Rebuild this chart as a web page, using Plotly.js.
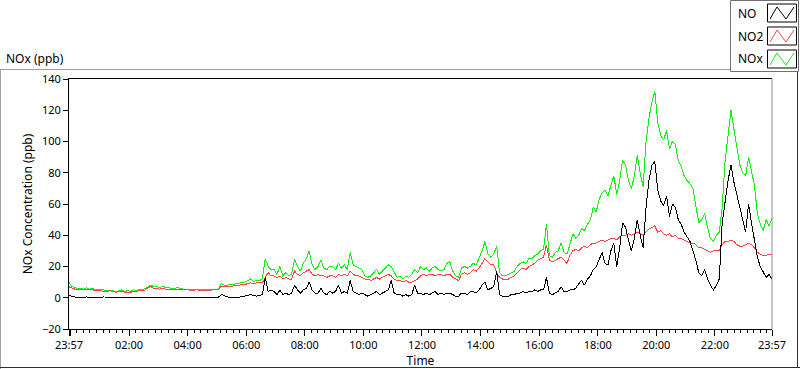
<!DOCTYPE html>
<html>
<head>
<meta charset="utf-8">
<script src="https://cdn.plot.ly/plotly-3.0.1.min.js"></script>
<style>html,body{margin:0;padding:0;background:#fff;}#chart{width:800px;height:369px;}
#chart path.js-line{shape-rendering:crispEdges;}
</style>
</head>
<body>
<div id="chart"></div>
<script>
// ---- data (6-minute readings starting 23:57) ----
const startTime = "2000-01-01 23:57:00";
const stepMinutes = 6;

const noValues = [
 1.5,0.8,0.5,0.3,0.5,0.3,0.5,0.3,0.4,0.3,
 0.3,0.3,0.5,0.3,0.2,0.3,0.4,0.3,0.3,0.3,
 0.3,0.2,0.3,0.3,0.5,0.3,0.3,0.6,0.4,0.3,
 0.3,0.4,0.3,0.3,0.3,0.3,0.2,0.3,0.3,0.3,
 0.3,0.2,0.3,0.3,0.2,0.3,0.2,0.3,0.3,0.3,
 0.3,0.3,2,1.5,0.5,0.3,0.3,0.3,0.4,0.5,
 1,1.5,2,1.5,1,1.5,2,13,4,5,
 4,2,5,2,3,2,3,8,5,3,
 5,6,10,5,3,3,6,3,2,4,
 3,4,8,3,4,3,11,4,3,2,
 3,2,1,2,3,4,2,3,4,5,
 11,3,2,2,1,2,1,2,8,3,
 3,2,3,2,3,4,2,3,2,3,
 3,2,1,1,3,3,2,4,4,3,
 5,8,10,5,6,7,17,2,1,1,
 1,2,2,3,3,4,3,4,4,5,
 4,5,5,13,3,2,3,4,7,4,
 4,5,5,6,9,11,8,12,14,18,
 20,24,29,22,21,30,35,20,32,48,
 45,37,30,38,50,40,32,58,75,85,
 87,69,62,59,65,52,60,58,50,47,
 42,39,36,30,24,16,14,18,12,8,
 5,8,12,48,62,75,85,74,66,57,
 50,42,60,48,36,26,20,16,13,15,
 12];

const no2Values = [
 7,6,5.5,5.5,5,5,5.5,5,5,4.5,
 4.5,4.5,4,4,4.5,4,3.5,4,4,3.5,
 3.5,3.5,4,4,4.5,4.5,5,6.5,7,6,
 6,5.5,6,5.5,5.5,5.5,5,5.5,5,5,
 5,5,4.5,5,5,4.5,4.5,5,4.5,5,
 5,5,7.5,7,7,7.5,7.5,8,8,8.5,
 8.5,9,9.5,9,9.5,9.5,9.5,13,16,14,
 14,13,14,12,13,12,12,17,15,14,
 16,17,18,15,14,15,14,14,13,14,
 14,13,15,14,15,14,17,15,14,14,
 13,12,12,11,12,13,12,13,14,15,
 14,12,11,11,10,11,10,10,11,12,
 14,15,14,15,15,14,15,15,14,15,
 15,13,12,11,15,16,15,16,18,17,
 19,22,25,23,21,21,16,13,12,12,
 12,13,14,16,18,19,18,20,21,22,
 24,25,26,34,24,23,24,25,26,24,
 22,27,30,31,30,32,33,32,34,35,
 35,36,37,36,37,38,38,37,39,40,
 40,41,40,41,42,41,40,42,44,45,
 46,42,43,41,40,41,39,40,38,38,
 37,36,35,35,34,32,32,31,30,29,
 30,30,30,34,36,36,37,36,34,33,
 33,34,35,34,32,29,28,27,27,28,
 28];

const noxValues = [
 10,7,6.5,6,6,5.5,6.5,5.5,6,5,
 5,5.5,5,4.5,5,4.5,4,4.5,5,4,
 4.5,4,5,4.5,5.5,5,6,7.5,8,7,
 7,6.5,7.5,6.5,6.5,6,6,6.5,6,5.5,
 5.5,5.5,5,5.5,5.5,5,5,5.5,5,5.5,
 5.5,5.5,9,8,8,8.5,8.5,9,9,10,
 10,11,12,10.5,11,11,12,25,20,18,
 18,15,20,14,16,14,15,25,20,17,
 22,25,30,21,18,20,24,19,18,20,
 20,18,22,19,21,18,29,21,20,19,
 18,14,13,14,16,18,15,17,19,21,
 20,16,13,14,12,14,13,15,18,16,
 20,18,19,17,19,20,18,17,18,22,
 23,17,14,13,19,20,19,20,22,21,
 25,30,36,28,26,28,33,16,14,14,
 15,16,17,20,22,23,22,25,25,27,
 28,30,31,47,27,26,29,30,35,29,
 28,34,41,38,40,44,43,47,50,58,
 55,63,67,69,65,72,78,66,75,88,
 85,75,70,78,91,80,71,100,115,125,
 132,112,104,101,107,95,100,98,88,84,
 78,75,73,70,58,48,50,54,45,38,
 36,40,42,58,88,105,120,108,96,85,
 80,78,90,82,72,54,47,43,50,46,
 51];

const seriesNames = ["NO", "NO2", "NOx"];
const seriesColors = ["#000000", "#ff4545", "#10f010"];

const tickValues = ["2000-01-01 23:57","2000-01-02 00:00","2000-01-02 02:00","2000-01-02 04:00","2000-01-02 06:00","2000-01-02 08:00","2000-01-02 10:00","2000-01-02 12:00","2000-01-02 14:00","2000-01-02 16:00","2000-01-02 18:00","2000-01-02 20:00","2000-01-02 22:00","2000-01-02 23:57"];
const tickLabels = ["23:57","","02:00","04:00","06:00","08:00","10:00","12:00","14:00","16:00","18:00","20:00","22:00","23:57"];
const yTicks = [-20,0,20,40,60,80,100,120,140];

// ---- build time axis ----
function fmt(d){const p=n=>String(n).padStart(2,"0");return d.getUTCFullYear()+"-"+p(d.getUTCMonth()+1)+"-"+p(d.getUTCDate())+" "+p(d.getUTCHours())+":"+p(d.getUTCMinutes())+":00";}
const t0 = Date.UTC(2000,0,1,23,57);
const times = noValues.map((_,i)=>fmt(new Date(t0 + i*stepMinutes*60000)));

const traces = [
 {x: times, y: noxValues, name: seriesNames[2], type: "scatter", mode: "lines", line: {color: seriesColors[2], width: 1}},
 {x: times, y: no2Values, name: seriesNames[1], type: "scatter", mode: "lines", line: {color: seriesColors[1], width: 1}},
 {x: times, y: noValues, name: seriesNames[0], type: "scatter", mode: "lines", line: {color: seriesColors[0], width: 1}}
];

// pixel -> paper helpers (plot area: x 69..772, y 79..329)
const L=69, W=703, B=329, H=250;
const px = x => (x-L)/W;
const py = y => (B-y)/H;

const font = "Noto Sans, Segoe UI, sans-serif";
const shapes = [
 {type:"line", xref:"paper", yref:"paper", x0:px(0), y0:py(69.5), x1:px(731), y1:py(69.5), line:{color:"#a0a0a0", width:1}},
 {type:"line", xref:"paper", yref:"paper", x0:px(0.5), y0:py(69.5), x1:px(0.5), y1:py(369), line:{color:"#a0a0a0", width:1}},
 {type:"line", xref:"paper", yref:"paper", x0:px(0), y0:py(367.5), x1:px(800), y1:py(367.5), line:{color:"#303030", width:1}},
 {type:"line", xref:"paper", yref:"paper", x0:px(797.5), y0:py(71), x1:px(797.5), y1:py(368), line:{color:"#303030", width:1}},
 {type:"line", xref:"paper", yref:"paper", x0:1, y0:0, x1:1, y1:1, line:{color:"#909090", width:1}},
 {type:"rect", xref:"paper", yref:"paper", x0:px(730.5), y0:py(71.5), x1:px(798.5), y1:py(0.5), fillcolor:"#ffffff", line:{color:"#707070", width:1}}
];
const annotations = [
 {xref:"paper", yref:"paper", x:px(4), y:py(59), xanchor:"left", yanchor:"middle", text:"NOx (ppb)", showarrow:false, font:{family:font, size:12, color:"#000"}}
];
const legendY = [13, 36, 59];
[0,1,2].forEach((k,i)=>{
  const cy = legendY[i];
  shapes.push({type:"rect", xref:"paper", yref:"paper", x0:px(767.5), y0:py(cy+9), x1:px(796.5), y1:py(cy-9), fillcolor:"#ffffff", line:{color:"#000000", width:1}});
  const pts = [[770,cy+6],[777,cy-6],[786,cy+6],[794,cy-6]];
  shapes.push({type:"path", xref:"paper", yref:"paper", path:"M"+pts.map(p=>px(p[0])+","+py(p[1])).join(" L"), line:{color:seriesColors[k], width:1}});
  annotations.push({xref:"paper", yref:"paper", x:px(736), y:py(cy), xanchor:"left", yanchor:"middle", text:seriesNames[k], showarrow:false, font:{family:font, size:12, color:"#000"}});
});

const layout = {
  width: 800, height: 369,
  margin: {l: L, r: 800-L-W, t: 79, b: 40, pad: 0},
  paper_bgcolor: "#ffffff", plot_bgcolor: "#ffffff",
  showlegend: false,
  font: {family: font, size: 11, color: "#000"},
  xaxis: {
    type: "date",
    range: ["2000-01-01 23:57", "2000-01-02 23:57"],
    tickmode: "array", tickvals: tickValues, ticktext: tickLabels,
    ticks: "outside", ticklen: 6, tickcolor: "#000", tickwidth: 1,
    minor: {dtick: 800000, tick0: "2000-01-02 00:00", ticks: "outside", ticklen: 3, tickcolor: "#000", showgrid: false},
    showgrid: false, zeroline: false,
    showline: true, linecolor: "#000", linewidth: 1, mirror: true,
    tickfont: {family: font, size: 11, color: "#000"},
    title: {text: "Time", font: {family: font, size: 12, color: "#000"}, standoff: 4}
  },
  yaxis: {
    range: [-20, 140], tickmode: "array", tickvals: yTicks,
    ticks: "outside", ticklen: 5, tickcolor: "#000", tickwidth: 1,
    showgrid: false, zeroline: false,
    showline: true, linecolor: "#000", linewidth: 1,
    tickfont: {family: font, size: 11, color: "#000"},
    title: {text: "NOx Concentration (ppb)", font: {family: font, size: 12, color: "#000"}, standoff: 6}
  },
  shapes: shapes,
  annotations: annotations
};

Plotly.newPlot("chart", traces, layout, {staticPlot: true, displayModeBar: false});
</script>
</body>
</html>
